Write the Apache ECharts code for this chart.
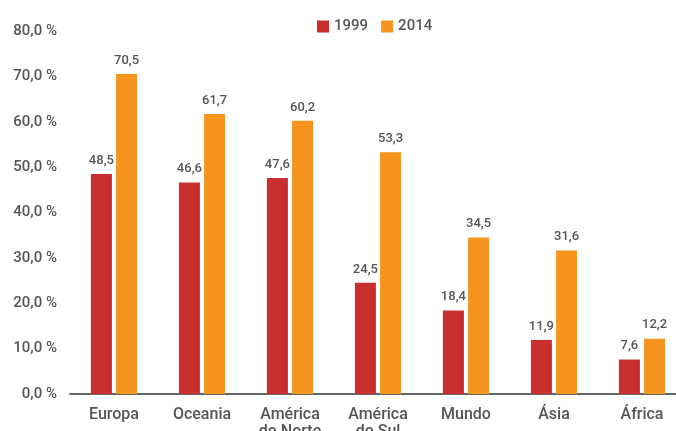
<!DOCTYPE html>
<html>
<head>
<meta charset="utf-8">
<script src="https://cdn.jsdelivr.net/npm/echarts@6/dist/echarts.min.js"></script>
<style>
html,body{margin:0;padding:0;background:#fff;}
#chart{width:676px;height:431px;}
</style>
</head>
<body>
<div id="chart"></div>
<script>
// Regions, ordered as in the chart
const categories = ['Europa', 'Oceania', 'América\ndo Norte', 'América\ndo Sul', 'Mundo', 'Ásia', 'África'];
const seriesNames = ['1999', '2014'];
const values1999 = [48.5, 46.6, 47.6, 24.5, 18.4, 11.9, 7.6];
const values2014 = [70.5, 61.7, 60.2, 53.3, 34.5, 31.6, 12.2];
const colors = ['#c92f2f', '#f7941d'];

const fmt = v => v.toFixed(1).replace('.', ',');
const textColor = '#555';
const fontFamily = 'Roboto, "Noto Sans", sans-serif';

const chart = echarts.init(document.getElementById('chart'));
chart.setOption({
  animation: false,
  textStyle: { fontFamily },
  legend: {
    top: 14,
    left: 312,
    itemWidth: 12,
    itemHeight: 12,
    itemGap: 13,
    icon: 'rect',
    textStyle: { color: textColor, fontSize: 15, fontWeight: 500, fontFamily }
  },
  grid: { left: 70, right: -10, top: 31, bottom: 37, containLabel: false, outerBoundsMode: 'none' },
  xAxis: {
    type: 'category',
    data: categories,
    axisLine: { lineStyle: { color: '#666', width: 2 } },
    axisTick: { show: false },
    axisLabel: { color: textColor, fontSize: 16, fontWeight: 500, margin: 12, lineHeight: 17, fontFamily }
  },
  yAxis: {
    type: 'value',
    min: 0,
    max: 80,
    interval: 10,
    splitLine: { show: false },
    axisLine: { show: false },
    axisTick: { show: false },
    axisLabel: {
      color: textColor, fontSize: 15, fontWeight: 500, margin: 13, fontFamily,
      formatter: v => fmt(v) + ' %'
    }
  },
  series: [values1999, values2014].map((data, i) => ({
    name: seriesNames[i],
    type: 'bar',
    data,
    barWidth: 21,
    barGap: '20%',
    itemStyle: { color: colors[i] },
    label: {
      show: true,
      position: 'top',
      distance: 7,
      color: textColor,
      fontSize: 13,
      fontWeight: 500,
      fontFamily,
      formatter: p => fmt(p.value)
    }
  }))
});
</script>
</body>
</html>
